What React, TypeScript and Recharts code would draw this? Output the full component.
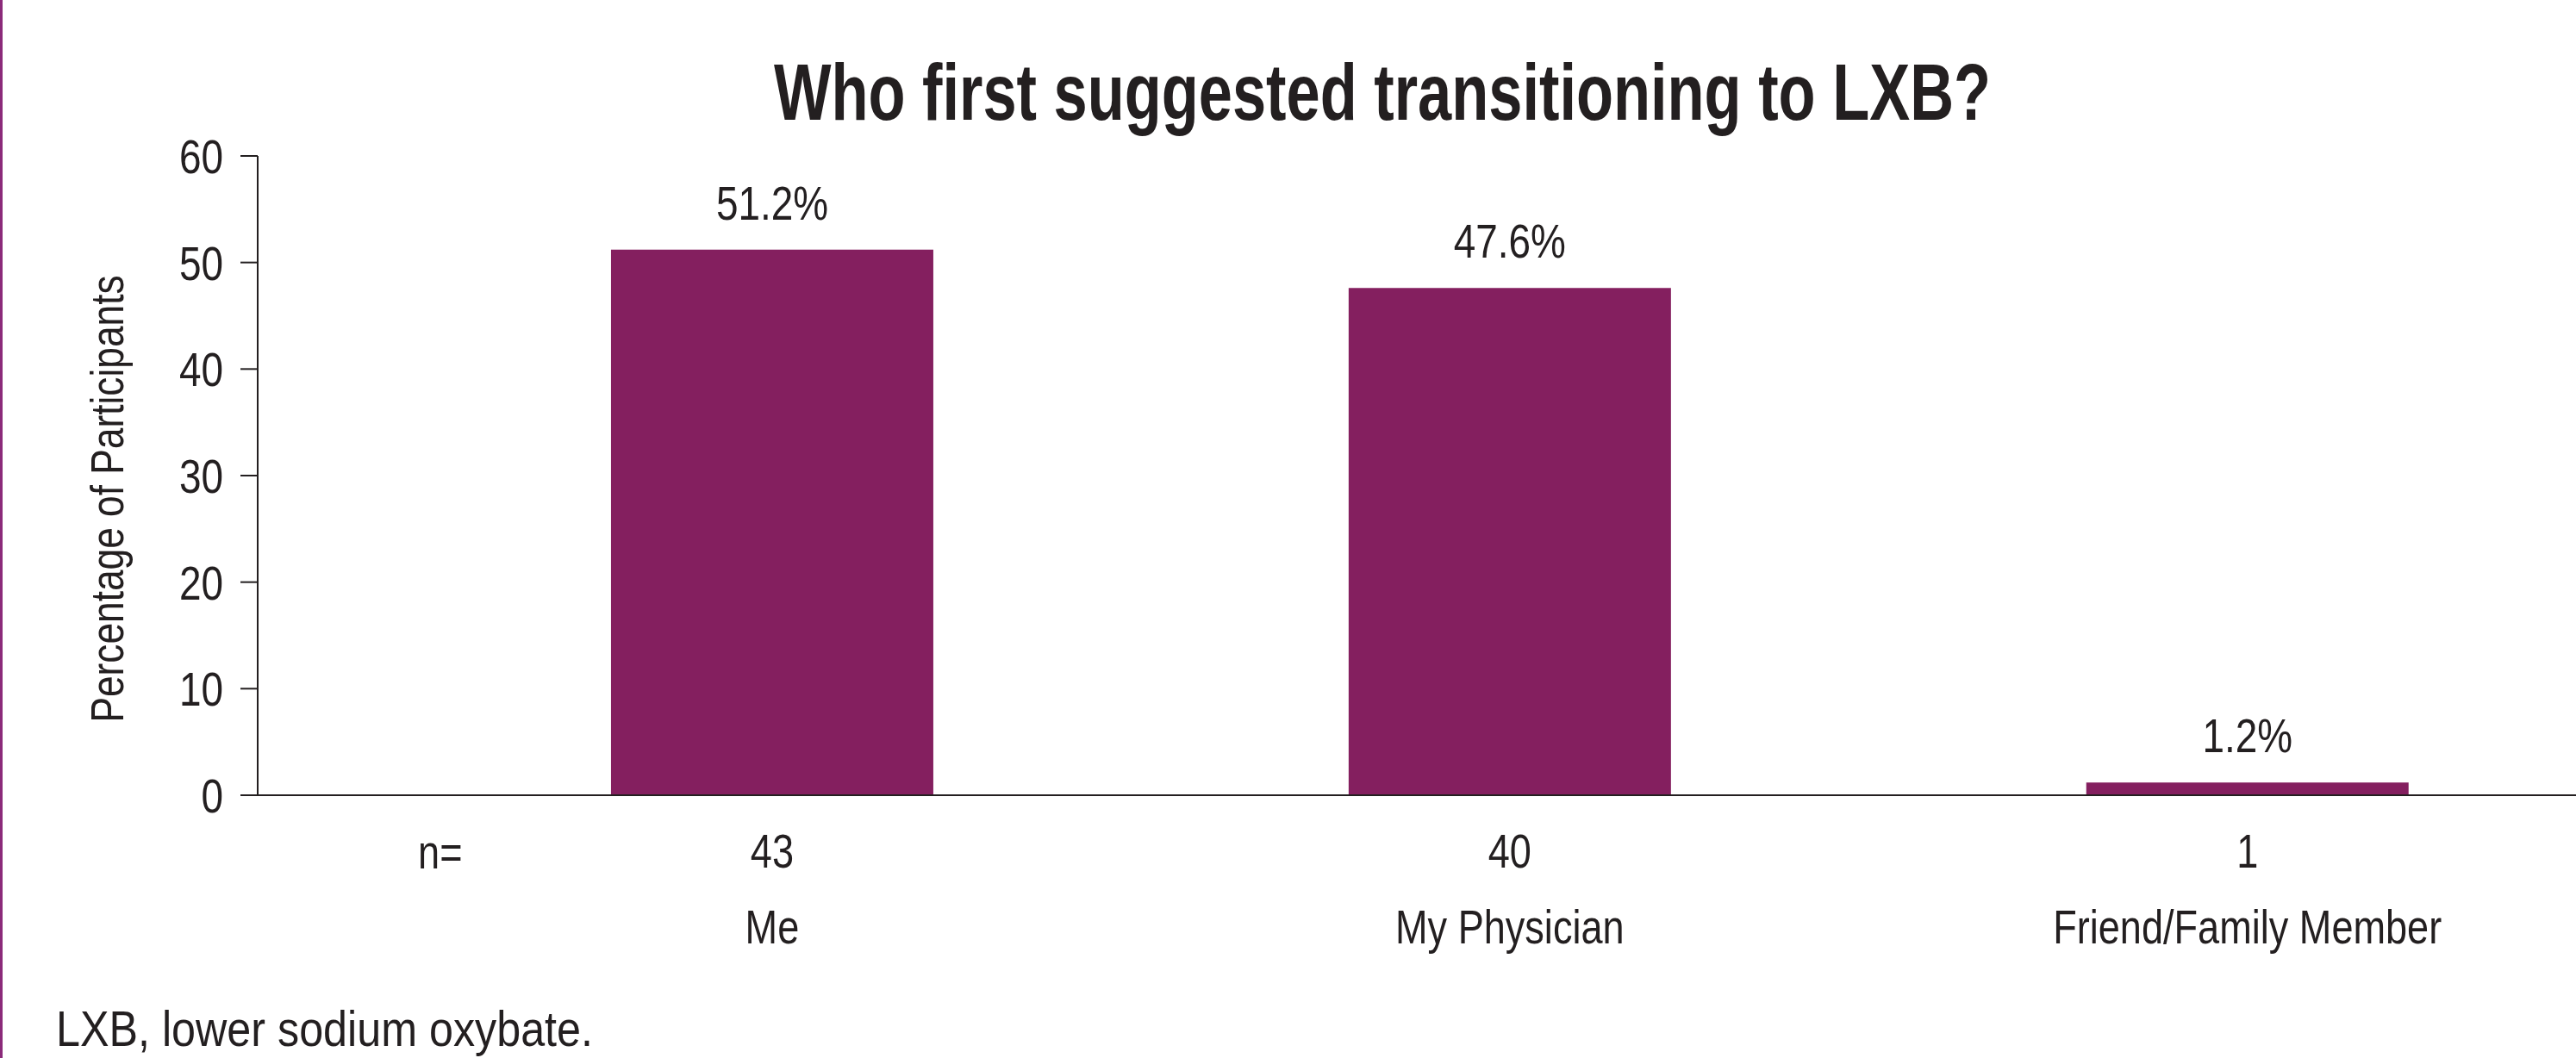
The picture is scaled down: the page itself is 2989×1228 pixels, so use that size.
import React from 'react';
import { BarChart, Bar, XAxis, YAxis, LabelList, Label } from 'recharts';

const categories = ['Me', 'My Physician', 'Friend/Family Member'];
const percentages = [51.2, 47.6, 1.2];
const counts = [43, 40, 1];
const positions = [1, 2, 3];
const yTicks = [0, 10, 20, 30, 40, 50, 60];
const nLabel = 'n=';
const nPosition = 0.55;
const xDomain = [0.3026, 3.4455];
const title = 'Who first suggested transitioning to LXB?';
const yAxisTitle = 'Percentage of Participants';
const footnote = 'LXB, lower sodium oxybate.';

const data = positions.map((p, i) => ({ pos: p, category: categories[i], pct: percentages[i], n: counts[i] }));

const FONT = "'Liberation Sans', Arial, sans-serif";
const INK = '#231F20';
const BAR = '#841F5F';
const W = 2989;
const H = 1228;
const SQUEEZE = 0.82;

const NarrowText = ({ x, y, anchor = 'middle', size = 56, rotate = 0, weight = 'normal', children }: any) => (
  <text
    x={0}
    y={0}
    transform={`translate(${x} ${y}) rotate(${rotate}) scale(${SQUEEZE} 1)`}
    textAnchor={anchor}
    fontSize={size}
    fontWeight={weight}
    fontFamily={FONT}
    fill={INK}
  >
    {children}
  </text>
);

const CategoryTick = (props: any) => {
  const { x, y, payload } = props;
  const i = positions.indexOf(payload.value);
  if (i < 0) return null;
  return (
    <g>
      <NarrowText x={x} y={y + 84} size={55}>{counts[i]}</NarrowText>
      <NarrowText x={x} y={y + 172} size={55}>{categories[i]}</NarrowText>
    </g>
  );
};

const NTick = (props: any) => {
  const { x, y } = props;
  return <NarrowText x={x} y={y + 84} size={55}>{nLabel}</NarrowText>;
};

const YTick = (props: any) => {
  const { x, y, payload } = props;
  return <NarrowText x={x} y={y + 20} anchor="end" size={56}>{payload.value}</NarrowText>;
};

const ValueLabel = (props: any) => {
  const { x, y, width, value } = props;
  return <NarrowText x={x + width / 2} y={y - 35} size={56}>{`${value}%`}</NarrowText>;
};

const YTitle = (props: any) => {
  const vb = props.viewBox || {};
  const cy = (vb.y || 0) + (vb.height || 0) / 2 + 27;
  return <NarrowText x={143} y={cy} rotate={-90} size={54}>{yAxisTitle}</NarrowText>;
};

export default function App() {
  return (
    <div style={{ position: 'absolute', left: 0, top: 0, width: W, height: H, overflow: 'hidden', background: '#fff' }}>
      <div style={{ position: 'absolute', left: 0, top: 0, width: 3, height: H, background: '#8B2A7A' }} />
      <div style={{ position: 'absolute', left: 0, top: 0 }}>
        <BarChart width={W} height={H} data={data} margin={{ top: 181, right: 0, bottom: 303, left: 0 }}>
          <XAxis
            dataKey="pos"
            type="number"
            domain={xDomain}
            ticks={positions}
            interval={0}
            height={1}
            tickSize={0}
            tickMargin={0}
            tickLine={false}
            axisLine={{ stroke: INK, strokeWidth: 2 }}
            tick={<CategoryTick />}
            allowDataOverflow
          />
          <XAxis
            xAxisId="n"
            dataKey="pos"
            type="number"
            domain={xDomain}
            ticks={[nPosition]}
            interval={0}
            height={1}
            tickSize={0}
            tickMargin={0}
            tickLine={false}
            axisLine={false}
            tick={<NTick />}
            allowDataOverflow
          />
          <YAxis
            type="number"
            domain={[0, 60]}
            ticks={yTicks}
            interval={0}
            width={299}
            tickSize={20}
            tickMargin={20}
            axisLine={{ stroke: INK, strokeWidth: 2 }}
            tickLine={{ stroke: INK, strokeWidth: 2 }}
            tick={<YTick />}
          >
            <Label content={<YTitle />} />
          </YAxis>
          <Bar dataKey="pct" fill={BAR} barSize={374} isAnimationActive={false}>
            <LabelList dataKey="pct" content={<ValueLabel />} />
          </Bar>
        </BarChart>
      </div>
      <svg width={W} height={H} style={{ position: 'absolute', left: 0, top: 0, pointerEvents: 'none' }}>
        <text x={1604} y={139} textAnchor="middle" fontSize={92} fontWeight="bold" fontFamily={FONT} fill={INK}
          textLength={1412} lengthAdjust="spacingAndGlyphs">{title}</text>
        <text x={65} y={1214} fontSize={58} fontFamily={FONT} fill={INK}
          textLength={623} lengthAdjust="spacingAndGlyphs">{footnote}</text>
      </svg>
    </div>
  );
}
